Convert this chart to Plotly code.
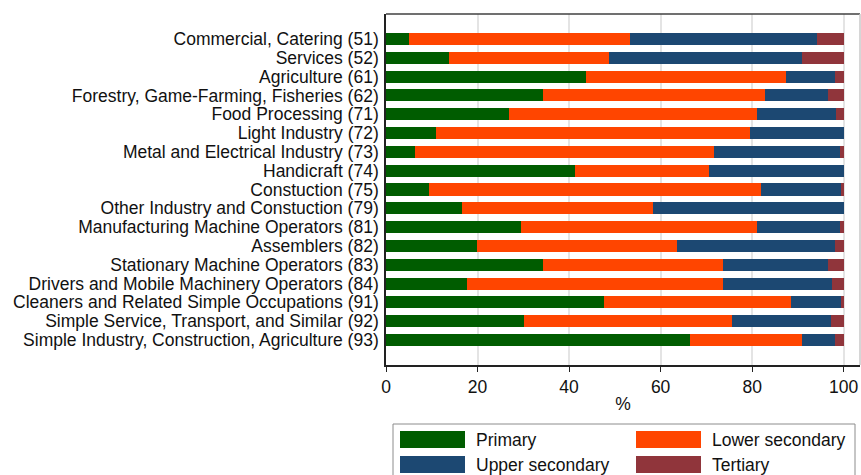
import plotly.graph_objects as go

categories = [
    "Commercial, Catering (51)",
    "Services (52)",
    "Agriculture (61)",
    "Forestry, Game-Farming, Fisheries (62)",
    "Food Processing (71)",
    "Light Industry (72)",
    "Metal and Electrical Industry (73)",
    "Handicraft (74)",
    "Constuction (75)",
    "Other Industry and Constuction (79)",
    "Manufacturing Machine Operators (81)",
    "Assemblers (82)",
    "Stationary Machine Operators (83)",
    "Drivers and Mobile Machinery Operators (84)",
    "Cleaners and Related Simple Occupations (91)",
    "Simple Service, Transport, and Similar (92)",
    "Simple Industry, Construction, Agriculture (93)",
]

primary = [5.0, 13.8, 43.8, 34.4, 26.9, 10.9, 6.4, 41.2, 9.3, 16.5, 29.6, 19.8, 34.2, 17.6, 47.6, 30.1, 66.4]
lower_secondary = [48.2, 34.9, 43.7, 48.3, 54.1, 68.6, 65.2, 29.3, 72.6, 41.8, 51.4, 43.7, 39.4, 56.0, 40.8, 45.6, 24.4]
upper_secondary = [40.9, 42.1, 10.5, 13.8, 17.3, 20.5, 27.5, 29.5, 17.7, 41.7, 18.1, 34.5, 22.9, 23.8, 10.9, 21.5, 7.2]
tertiary = [5.9, 9.2, 2.0, 3.5, 1.7, 0.0, 0.9, 0.0, 0.4, 0.0, 0.9, 2.0, 3.5, 2.6, 0.7, 2.8, 2.0]

series_names = ["Primary", "Lower secondary", "Upper secondary", "Tertiary"]
series_values = [primary, lower_secondary, upper_secondary, tertiary]
series_colors = ["#005c00", "#ff4500", "#1c4872", "#90353b"]

x_ticks = [0, 20, 40, 60, 80, 100]

FONT = "Liberation Sans, Arial, Helvetica, sans-serif"
FS = 17.5

W, H = 861, 475
L, R, T, B = 386, 1, 14, 110
pw = W - L - R
ph = H - T - B

def px(x):
    return (x - L) / pw

def py(y):
    return (H - B - y) / ph

ypos = list(range(len(categories)))

fig = go.Figure()
for name, vals, col in zip(series_names, series_values, series_colors):
    fig.add_trace(go.Bar(
        x=vals, y=ypos, orientation="h", name=name,
        marker=dict(color=col, line=dict(width=0)),
        width=0.64, showlegend=False,
    ))

shapes = [
    dict(type="line", xref="paper", yref="paper", x0=0, x1=1, y0=1, y1=1,
         line=dict(color="#404040", width=1.5)),
    dict(type="line", xref="paper", yref="paper", x0=1, x1=1, y0=0, y1=1,
         line=dict(color="#c8c8c8", width=1.5)),
    dict(type="rect", xref="paper", yref="paper",
         x0=px(393), x1=px(855), y0=py(424), y1=py(485),
         line=dict(color="#8c8c8c", width=1), fillcolor="white"),
]
annotations = []
key_x = [(400, 465), (636, 701)]
text_x = [474, 710]
rows = [(431, 448, 440), (456, 473, 465)]
for i, (name, col) in enumerate(zip(series_names, series_colors)):
    c = i % 2
    r = i // 2
    shapes.append(dict(type="rect", xref="paper", yref="paper",
                       x0=px(key_x[c][0]), x1=px(key_x[c][1]),
                       y0=py(rows[r][0]), y1=py(rows[r][1]),
                       line=dict(width=0), fillcolor=col))
    annotations.append(dict(xref="paper", yref="paper", x=px(text_x[c]), y=py(rows[r][2]),
                            text=name, showarrow=False, xanchor="left", yanchor="middle",
                            font=dict(family=FONT, size=FS, color="#111111")))

fig.update_layout(
    barmode="stack",
    width=W, height=H,
    margin=dict(l=L, r=R, t=T, b=B, pad=0),
    paper_bgcolor="white", plot_bgcolor="white",
    font=dict(family=FONT, size=FS, color="#111111"),
    showlegend=False,
    bargap=0,
    shapes=shapes,
    annotations=annotations,
    xaxis=dict(
        range=[0, 103.56], tickvals=x_ticks, ticktext=[str(t) for t in x_ticks],
        showgrid=True, gridcolor="#e4e4e4", gridwidth=1.5,
        zeroline=False, showline=True, linecolor="#222222", linewidth=1.5,
        ticks="outside", ticklen=5, tickcolor="#222222", tickwidth=1.2,
        tickfont=dict(family=FONT, size=FS, color="#111111"),
        title=dict(text="%", font=dict(family=FONT, size=FS, color="#111111"), standoff=2),
    ),
    yaxis=dict(
        range=[16 + 1.33, -1.33], tickvals=ypos, ticktext=categories,
        showgrid=False, zeroline=False, showline=True, linecolor="#222222", linewidth=1.5,
        ticks="", ticklabelstandoff=2,
        tickfont=dict(family=FONT, size=FS, color="#111111"),
    ),
)

fig.write_html("out.html")
